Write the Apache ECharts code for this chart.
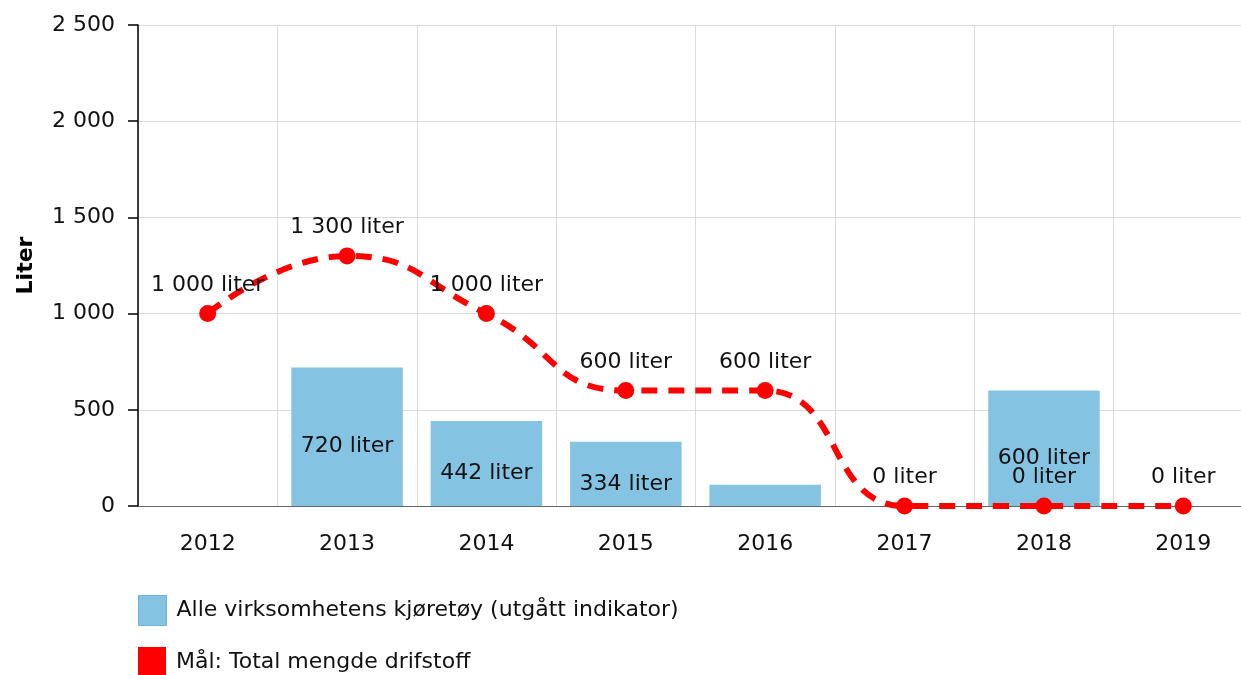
<!DOCTYPE html>
<html>
<head>
<meta charset="utf-8">
<script src="https://cdn.jsdelivr.net/npm/echarts@6/dist/echarts.min.js"></script>
<style>
  html, body { margin: 0; padding: 0; background: #fff; }
  #chart { width: 1241px; height: 675px; }
</style>
</head>
<body>
<div id="chart"></div>
<script>
var years = ['2012', '2013', '2014', '2015', '2016', '2017', '2018', '2019'];
var fleetValues = [null, 720, 442, 334, 110, null, 600, null];
var targetValues = [1000, 1300, 1000, 600, 600, 0, 0, 0];
var hiddenBarLabels = ['2016'];

var fleetName = 'Alle virksomhetens kjøretøy (utgått indikator)';
var targetName = 'Mål: Total mengde drifstoff';

function fmt(v) {
  return String(v).replace(/\B(?=(\d{3})+(?!\d))/g, ' ');
}

var barData = fleetValues.map(function (v, i) {
  if (hiddenBarLabels.indexOf(years[i]) >= 0) {
    return { value: v, label: { show: false } };
  }
  return v;
});

var chart = echarts.init(document.getElementById('chart'));
var font = 'DejaVu Sans, Verdana, sans-serif';
var fs = 22;
var legendBase = {
  orient: 'vertical',
  left: 138,
  padding: 0,
  itemWidth: 28,
  itemHeight: 30,
  textStyle: { fontSize: fs, color: '#111', fontFamily: font, padding: [0, 0, 0, 5] }
};
var option = {
  animation: false,
  textStyle: { fontFamily: font },
  grid: { left: 138, width: 1115, top: 25, height: 481, outerBoundsMode: 'none' },
  legend: [
    Object.assign({}, legendBase, {
      top: 595,
      data: [{ name: fleetName, icon: 'rect', itemStyle: { color: '#85c3e3', borderColor: '#6fb3dd', borderWidth: 1 } }]
    }),
    Object.assign({}, legendBase, {
      top: 647,
      data: [{ name: targetName, icon: 'rect', itemStyle: { color: '#ff0000' } }]
    })
  ],
  xAxis: {
    type: 'category',
    data: years,
    boundaryGap: true,
    axisLine: { lineStyle: { color: '#666', width: 1 } },
    axisTick: { alignWithLabel: true, length: 8, lineStyle: { color: '#888' } },
    axisLabel: { fontSize: fs, color: '#111', margin: 27, fontFamily: font },
    splitLine: { show: true, lineStyle: { color: '#dcdcdc' } }
  },
  yAxis: {
    type: 'value',
    min: 0,
    max: 2500,
    interval: 500,
    name: 'Liter',
    nameLocation: 'middle',
    nameGap: 101,
    nameTextStyle: { fontSize: fs, fontWeight: 'bold', color: '#000', fontFamily: font },
    axisLine: { show: true, lineStyle: { color: '#000', width: 1.5 } },
    axisTick: { show: true, length: 10, lineStyle: { color: '#000', width: 1.5 } },
    axisLabel: { fontSize: fs, color: '#111', margin: 23, formatter: fmt, fontFamily: font },
    splitLine: { lineStyle: { color: '#dcdcdc' } }
  },
  series: [
    {
      name: fleetName,
      type: 'bar',
      data: barData,
      barCategoryGap: '20%',
      itemStyle: { color: '#85c3e3' },
      label: {
        show: true,
        position: 'inside',
        offset: [0, 10],
        fontSize: fs,
        color: '#111',
        fontFamily: font,
        formatter: function (p) { return fmt(p.value) + ' liter'; }
      },
      z: 2
    },
    {
      name: targetName,
      type: 'line',
      data: targetValues,
      smooth: 0.5,
      symbol: 'circle',
      symbolSize: 17,
      itemStyle: { color: '#ff0000' },
      lineStyle: { color: '#ff0000', width: 6, type: [16, 11] },
      label: {
        show: true,
        position: 'top',
        distance: 9,
        fontSize: fs,
        color: '#111',
        fontFamily: font,
        formatter: function (p) { return fmt(p.value) + ' liter'; }
      },
      z: 3
    }
  ]
};
chart.setOption(option);
</script>
</body>
</html>
